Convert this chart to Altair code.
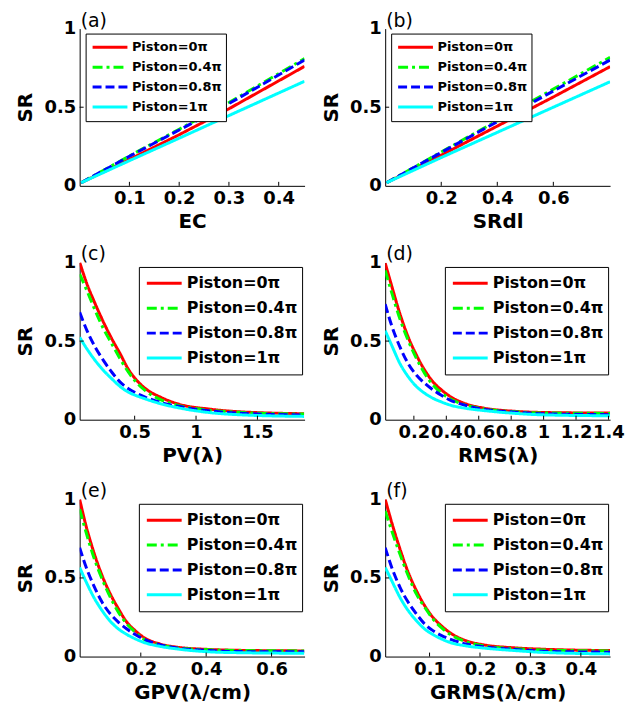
import altair as alt
import pandas as pd

SERIES = ["Piston=0π", "Piston=0.4π", "Piston=0.8π", "Piston=1π"]
COLORS = ["#ff0000", "#00ff00", "#0000ff", "#00ffff"]
DASHES = [[1, 0], [10, 4, 3, 4], [9, 4], [1, 0]]

# ---- panel (a): SR vs EC
A_X = [0.003, 0.1, 0.2, 0.3, 0.452]
A_RED = [0.02, 0.168, 0.325, 0.49, 0.76]
A_GREEN = [0.02, 0.19, 0.36, 0.53, 0.81]
A_BLUE = [0.02, 0.188, 0.355, 0.523, 0.80]
A_CYAN = [0.02, 0.16, 0.303, 0.447, 0.665]

# ---- panel (b): SR vs SRdl
B_X = [0.005, 0.2, 0.4, 0.6, 0.8025]
B_RED = [0.02, 0.195, 0.38, 0.565, 0.758]
B_GREEN = [0.02, 0.215, 0.415, 0.615, 0.817]
B_BLUE = [0.02, 0.212, 0.408, 0.603, 0.80]
B_CYAN = [0.02, 0.18, 0.34, 0.5, 0.662]

# ---- panel (c): SR vs PV
C_X = [0.0525, 0.1115, 0.179, 0.2467, 0.3142, 0.3818, 0.4494, 0.517, 0.5846, 0.7197, 0.855, 1.125, 1.3416, 1.88]
C_RED = [1.0, 0.863, 0.736, 0.619, 0.514, 0.419, 0.32, 0.25, 0.2, 0.14, 0.1, 0.066, 0.051, 0.038]
C_GREEN = [0.926, 0.82, 0.693, 0.577, 0.482, 0.387, 0.302, 0.235, 0.186, 0.125, 0.091, 0.059, 0.047, 0.036]
C_BLUE = [0.683, 0.567, 0.461, 0.376, 0.302, 0.239, 0.197, 0.168, 0.144, 0.108, 0.085, 0.055, 0.042, 0.03]
C_CYAN = [0.524, 0.45, 0.376, 0.313, 0.26, 0.211, 0.175, 0.152, 0.133, 0.1, 0.076, 0.044, 0.032, 0.021]

# ---- panel (d): SR vs RMS
D_X = [0.023, 0.0636, 0.1146, 0.1655, 0.2165, 0.2674, 0.3184, 0.3694, 0.4204, 0.5223, 0.6242, 0.8281, 0.9912, 1.41]
D_RED = [0.996, 0.849, 0.671, 0.524, 0.409, 0.314, 0.24, 0.19, 0.15, 0.1, 0.075, 0.053, 0.046, 0.042]
D_GREEN = [0.95, 0.807, 0.639, 0.503, 0.388, 0.293, 0.22, 0.17, 0.135, 0.092, 0.07, 0.05, 0.043, 0.04]
D_BLUE = [0.734, 0.597, 0.461, 0.356, 0.283, 0.231, 0.189, 0.155, 0.126, 0.09, 0.067, 0.048, 0.038, 0.032]
D_CYAN = [0.566, 0.472, 0.356, 0.273, 0.21, 0.168, 0.136, 0.113, 0.094, 0.072, 0.059, 0.04, 0.031, 0.025]

# ---- panel (e): SR vs GPV
E_X = [0.013, 0.0313, 0.0565, 0.0818, 0.107, 0.132, 0.1575, 0.183, 0.208, 0.2586, 0.309, 0.41, 0.491, 0.70]
E_RED = [1.0, 0.841, 0.662, 0.514, 0.397, 0.302, 0.218, 0.165, 0.123, 0.08, 0.06, 0.045, 0.04, 0.036]
E_GREEN = [0.937, 0.8, 0.63, 0.493, 0.376, 0.281, 0.207, 0.155, 0.112, 0.075, 0.055, 0.043, 0.039, 0.036]
E_BLUE = [0.693, 0.577, 0.45, 0.345, 0.271, 0.218, 0.175, 0.14, 0.112, 0.075, 0.055, 0.038, 0.032, 0.03]
E_CYAN = [0.567, 0.482, 0.376, 0.292, 0.224, 0.175, 0.14, 0.113, 0.091, 0.065, 0.049, 0.03, 0.025, 0.021]

# ---- panel (f): SR vs GRMS
F_X = [0.012, 0.025, 0.0414, 0.0577, 0.074, 0.0904, 0.1067, 0.123, 0.1395, 0.172, 0.2047, 0.27, 0.322, 0.458]
F_RED = [1.0, 0.852, 0.683, 0.535, 0.419, 0.323, 0.249, 0.197, 0.154, 0.101, 0.076, 0.055, 0.047, 0.038]
F_GREEN = [0.926, 0.8, 0.651, 0.514, 0.397, 0.313, 0.239, 0.185, 0.144, 0.095, 0.07, 0.05, 0.042, 0.036]
F_BLUE = [0.693, 0.567, 0.44, 0.345, 0.271, 0.207, 0.165, 0.135, 0.112, 0.08, 0.063, 0.045, 0.034, 0.028]
F_CYAN = [0.567, 0.482, 0.376, 0.292, 0.228, 0.175, 0.14, 0.113, 0.091, 0.068, 0.055, 0.038, 0.027, 0.017]

X_TICKS_A = [0.1, 0.2, 0.3, 0.4]
X_TICKS_B = [0.2, 0.4, 0.6]
X_TICKS_C = [0.5, 1, 1.5]
X_TICKS_D = [0.2, 0.4, 0.6, 0.8, 1, 1.2, 1.4]
X_TICKS_E = [0.2, 0.4, 0.6]
X_TICKS_F = [0.1, 0.2, 0.3, 0.4]
Y_TICKS = [0, 0.5, 1]

W, H = 226, 158
FONT = "DejaVu Sans"


def panel(letter, xtitle, xs, ys_list, domain, xticks, interp, lx, ly, lfont, lclip, soff, loff):
    rows = []
    for s, ys in zip(SERIES, ys_list):
        for i, (x, y) in enumerate(zip(xs, ys)):
            rows.append({"x": x, "y": y, "series": s, "o": i})
    df = pd.DataFrame(rows)
    leg = alt.Legend(
        orient="none", legendX=lx, legendY=ly, title=None,
        symbolType="stroke", symbolSize=1225, symbolStrokeWidth=3,
        clipHeight=lclip, labelFont=FONT, labelFontWeight="bold",
        labelFontSize=lfont, labelColor="black", strokeColor="black",
        fillColor="white", padding=4, symbolOffset=soff, labelOffset=loff,
        rowPadding=0, labelLimit=0,
    )
    xs_scale = alt.Scale(domain=domain, nice=False, zero=False)
    ys_scale = alt.Scale(domain=[0, 1], nice=False, zero=False)
    x_axis = alt.Axis(values=xticks, format="~g", labelOverlap=False, labelFlush=False,
                      labelBound=False)
    y_axis = alt.Axis(values=Y_TICKS, format="~g", labelOverlap=False)
    lines = alt.Chart(df).mark_line(strokeWidth=3, interpolate=interp, clip=True).encode(
        x=alt.X("x:Q", scale=xs_scale, title=xtitle, axis=x_axis),
        y=alt.Y("y:Q", scale=ys_scale, title="SR", axis=y_axis),
        color=alt.Color("series:N", scale=alt.Scale(domain=SERIES, range=COLORS), legend=leg),
        strokeDash=alt.StrokeDash("series:N", scale=alt.Scale(domain=SERIES, range=DASHES), legend=leg),
        order="o:Q",
    )
    xt = alt.Chart(pd.DataFrame({"x": xticks})).mark_rule(color="black", strokeWidth=1).encode(
        x=alt.X("x:Q", scale=xs_scale, title=xtitle, axis=x_axis),
        y=alt.value(H), y2=alt.value(H - 4))
    yt = alt.Chart(pd.DataFrame({"y": [0.5]})).mark_rule(color="black", strokeWidth=1).encode(
        y=alt.Y("y:Q", scale=ys_scale, title="SR", axis=y_axis),
        x=alt.value(0), x2=alt.value(4))
    return alt.layer(lines, xt, yt).properties(
        width=W, height=H,
        title=alt.TitleParams(letter, anchor="start", frame="group", dx=1, offset=-26,
                              baseline="alphabetic", font=FONT, fontSize=19,
                              fontWeight="normal", color="black"),
    )


def indep(c):
    return c.resolve_scale(
        color="independent", strokeDash="independent", x="independent", y="independent"
    ).resolve_legend(color="independent", strokeDash="independent")


def row(p1, p2):
    return indep(alt.hconcat(p1, p2, spacing=17))


pa = panel("(a)", "EC", A_X, [A_RED, A_GREEN, A_BLUE, A_CYAN], [0, 0.452], X_TICKS_A, "linear", 6, 5, 13, 19.5, 1.5, 3)
pb = panel("(b)", "SRdl", B_X, [B_RED, B_GREEN, B_BLUE, B_CYAN], [0, 0.8025], X_TICKS_B, "linear", 6, 5, 13, 19.5, 1.5, 3)
pc = panel("(c)", "PV(λ)", C_X, [C_RED, C_GREEN, C_BLUE, C_CYAN], [0.052, 1.884], X_TICKS_C, "monotone", 59.5, 4.5, 16, 25, 2.5, 3.6)
pd_ = panel("(d)", "RMS(λ)", D_X, [D_RED, D_GREEN, D_BLUE, D_CYAN], [0.023, 1.41], X_TICKS_D, "monotone", 60, 4.5, 16, 25, 2.5, 3.6)
pe = panel("(e)", "GPV(λ/cm)", E_X, [E_RED, E_GREEN, E_BLUE, E_CYAN], [0.013, 0.701], X_TICKS_E, "monotone", 59.5, 4.5, 16, 25, 2.5, 3.6)
pf = panel("(f)", "GRMS(λ/cm)", F_X, [F_RED, F_GREEN, F_BLUE, F_CYAN], [0.012, 0.458], X_TICKS_F, "monotone", 60, 4.5, 16, 25, 2.5, 3.6)

lower = indep(alt.vconcat(row(pc, pd_), row(pe, pf), spacing=17))
chart = indep(alt.vconcat(row(pa, pb), lower, spacing=14)).configure_axis(
    grid=False, ticks=False, tickSize=0, domainColor="black", domainWidth=1,
    labelFont=FONT, labelFontWeight="bold", labelFontSize=18, labelColor="black",
    labelPadding=4, labelOverlap=False, labelFlush=False,
    titleFont=FONT, titleFontWeight="bold", titleFontSize=20, titleColor="black",
).configure_axisX(titlePadding=4).configure_axisY(titlePadding=8).configure_view(
    stroke=None
).properties(padding={"left": 8, "top": 2, "right": 5, "bottom": 5}, background="white")

chart.save("out.html", embed_options={"renderer": "svg", "actions": False})
